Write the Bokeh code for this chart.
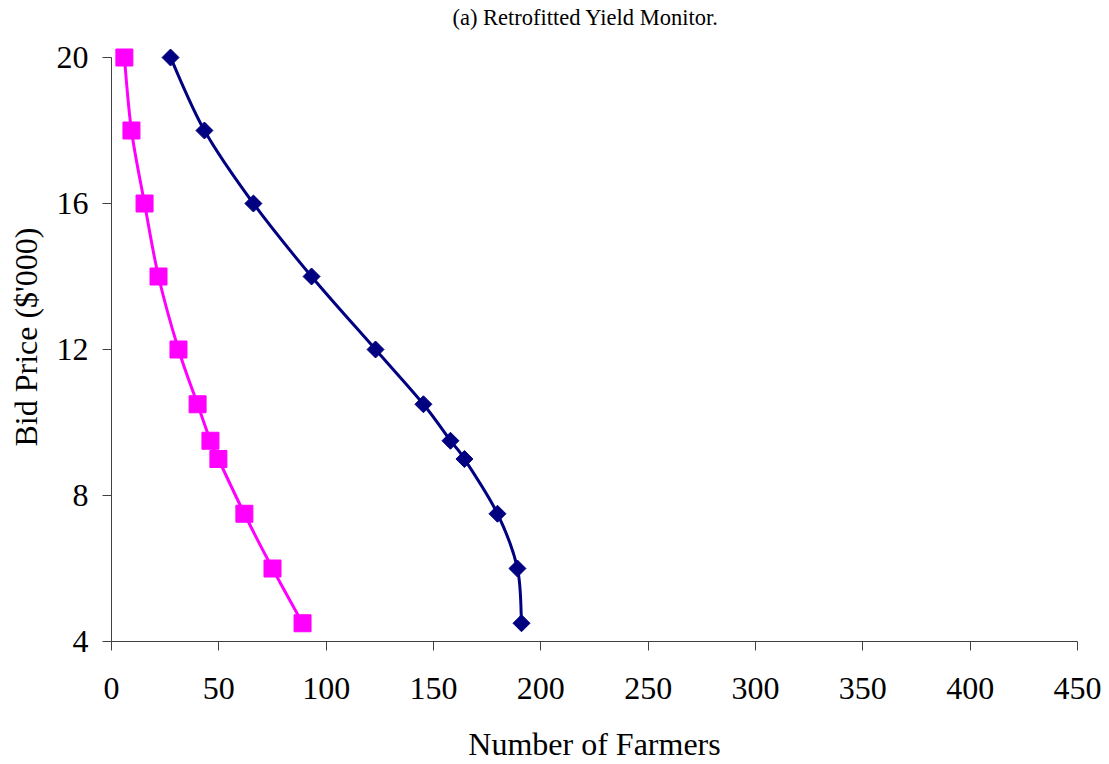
import math
from bokeh.plotting import figure
from bokeh.models import Range1d, FixedTicker, Title
from bokeh.embed import file_html
from bokeh.resources import INLINE

bid_price = [20, 18, 16, 14, 12, 10.5, 9.5, 9, 7.5, 6, 4.5]
farmers_navy = [27.5, 43.3, 66.1, 93.2, 123.0, 145.3, 157.9, 164.4, 179.8, 189.1, 191.0]
farmers_magenta = [6.0, 9.3, 15.4, 21.9, 31.2, 40.1, 46.1, 49.8, 61.9, 75.0, 89.0]
x_ticks = [0, 50, 100, 150, 200, 250, 300, 350, 400, 450]
y_ticks = [4, 8, 12, 16, 20]

FONT = "Liberation Serif"

p = figure(width=1105, height=764, output_backend="svg", toolbar_location=None,
           x_range=Range1d(0, 450), y_range=Range1d(4, 20.685),
           min_border_left=111, min_border_right=28, min_border_top=32, min_border_bottom=123)
p.outline_line_color = None
p.grid.visible = False

t = Title(text="(a) Retrofitted Yield Monitor.", align="left", text_font=FONT,
          text_font_size="22.5px", text_font_style="normal", text_color="black",
          offset=341, standoff=5)
p.add_layout(t, "above")


def smooth(xs, ys):
    n = len(xs)
    out = {k: [] for k in ("x0", "y0", "x1", "y1", "cx0", "cy0", "cx1", "cy1")}
    for i in range(n - 1):
        xa, ya = xs[max(i - 1, 0)], ys[max(i - 1, 0)]
        xb, yb = xs[i], ys[i]
        xc, yc = xs[i + 1], ys[i + 1]
        xd, yd = xs[min(i + 2, n - 1)], ys[min(i + 2, n - 1)]
        out["x0"].append(xb); out["y0"].append(yb)
        out["x1"].append(xc); out["y1"].append(yc)
        out["cx0"].append(xb + (xc - xa) / 6); out["cy0"].append(yb + (yc - ya) / 6)
        out["cx1"].append(xc - (xd - xb) / 6); out["cy1"].append(yc - (yd - yb) / 6)
    return out


for xs, color in [(farmers_magenta, "#FF00FF"), (farmers_navy, "#000080")]:
    s = smooth(xs, bid_price)
    p.bezier(line_color=color, line_width=3, **s)

p.scatter(farmers_magenta, bid_price, marker="square", size=17, color="#FF00FF")
p.scatter(farmers_navy, bid_price, marker="square", size=12, angle=math.pi / 4, color="#000080")

for ax in (p.xaxis[0], p.yaxis[0]):
    ax.axis_line_color = "#404040"
    ax.major_tick_line_color = "#404040"
    ax.minor_tick_line_color = None
    ax.major_tick_in = 0
    ax.major_label_text_font = FONT
    ax.major_label_text_font_size = "32px"
    ax.major_label_text_color = "black"
    ax.axis_label_text_font = FONT
    ax.axis_label_text_font_size = "32px"
    ax.axis_label_text_font_style = "normal"
    ax.axis_label_text_color = "black"

p.xaxis.ticker = FixedTicker(ticks=x_ticks)
p.yaxis.ticker = FixedTicker(ticks=y_ticks)
p.yaxis.bounds = (4, 20)
p.xaxis.major_tick_out = 9
p.yaxis.major_tick_out = 9
p.xaxis.major_label_standoff = 27
p.yaxis.major_label_standoff = 14
p.xaxis.axis_label = "Number of Farmers"
p.yaxis.axis_label = "Bid Price ($'000)"
p.xaxis.axis_label_standoff = 24
p.yaxis.axis_label_standoff = 10

open("out.html", "w").write(file_html(p, INLINE))
